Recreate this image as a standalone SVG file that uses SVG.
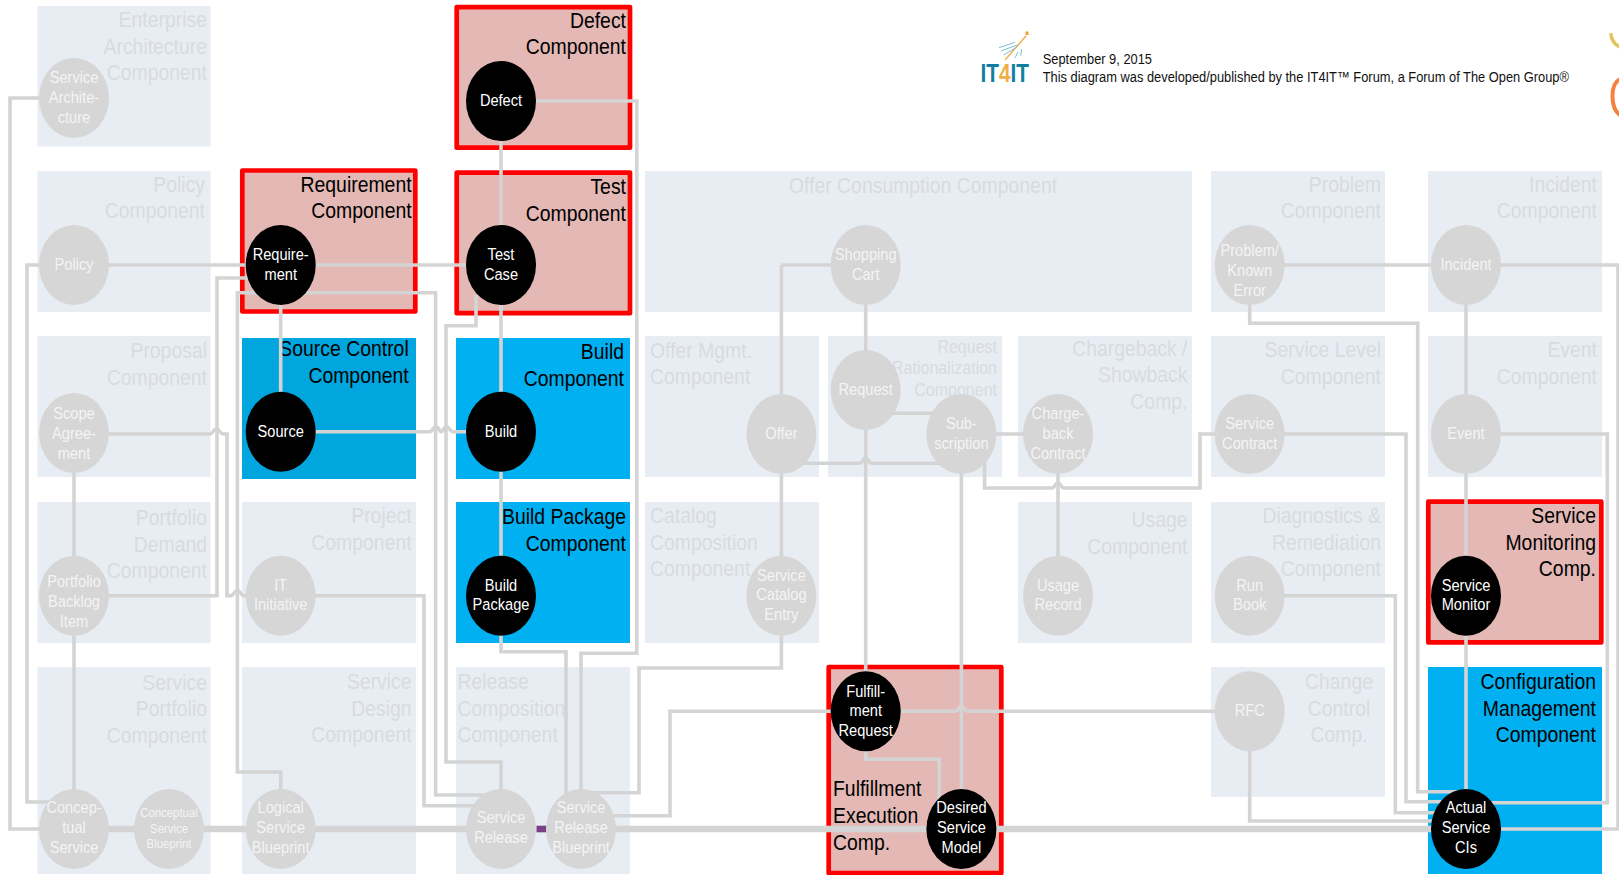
<svg xmlns="http://www.w3.org/2000/svg" width="1619" height="875" viewBox="0 0 1619 875">
<style>
text{font-family:"Liberation Sans",Arial,sans-serif}
.zone{fill:#e8edf4}
.blue{fill:#00b0f0}
.blue2{fill:#00a6dd}
.red{fill:#e4b8b5;stroke:#f00;stroke-width:4.7;stroke-linejoin:round}
.z{font-size:22px;fill:#d8dbdf}
.zb{font-size:22px;fill:#000}
.e{text-anchor:end}
.s{text-anchor:start}
.m{text-anchor:middle}
.n{font-size:16.7px;text-anchor:middle}
.g ellipse{fill:#d6d6d6}
.k ellipse{fill:#000}
.g text{fill:#f4f4f4}
.k text{fill:#fff}
.c{fill:none;stroke:#d4d4d4;stroke-width:3.6;stroke-linejoin:miter}
.t{fill:none;stroke:#d4d4d4;stroke-width:6.4}
</style>

<g id="zones">
<g id="zone-enterprise-architecture"><rect class="zone" x="37.5" y="6" width="173" height="140.5"/><text class="z e" transform="translate(207 27.2) scale(.882 1)"><tspan x="0">Enterprise</tspan><tspan x="0" dy="26.6">Architecture</tspan><tspan x="0" dy="26.6">Component</tspan></text></g>
<g id="zone-policy"><rect class="zone" x="37.5" y="171" width="173" height="141"/><text class="z e" transform="translate(205 191.7) scale(.882 1)"><tspan x="0">Policy</tspan><tspan x="0" dy="26.6">Component</tspan></text></g>
<g id="zone-proposal"><rect class="zone" x="37.5" y="336" width="173" height="141"/><text class="z e" transform="translate(207 358.3) scale(.882 1)"><tspan x="0">Proposal</tspan><tspan x="0" dy="26.6">Component</tspan></text></g>
<g id="zone-portfolio-demand"><rect class="zone" x="37.5" y="502" width="173" height="141"/><text class="z e" transform="translate(207 525.2) scale(.882 1)"><tspan x="0">Portfolio</tspan><tspan x="0" dy="26.6">Demand</tspan><tspan x="0" dy="26.6">Component</tspan></text></g>
<g id="zone-service-portfolio"><rect class="zone" x="37.5" y="667" width="173" height="207"/><text class="z e" transform="translate(207 689.8) scale(.882 1)"><tspan x="0">Service</tspan><tspan x="0" dy="26.6">Portfolio</tspan><tspan x="0" dy="26.6">Component</tspan></text></g>
<g id="zone-requirement"><rect class="red" x="242.3" y="170.5" width="173" height="141"/><text class="zb e" transform="translate(411.6 191.7) scale(.882 1)"><tspan x="0">Requirement</tspan><tspan x="0" dy="26.6">Component</tspan></text></g>
<g id="zone-source-control"><rect class="blue2" x="242" y="338" width="174" height="141"/><text class="zb e" transform="translate(408.7 356.3) scale(.882 1)"><tspan x="0">Source Control</tspan><tspan x="0" dy="26.6">Component</tspan></text></g>
<g id="zone-project"><rect class="zone" x="242" y="502" width="174" height="141"/><text class="z e" transform="translate(411.6 523.3) scale(.882 1)"><tspan x="0">Project</tspan><tspan x="0" dy="26.6">Component</tspan></text></g>
<g id="zone-service-design"><rect class="zone" x="242" y="667" width="174" height="207"/><text class="z e" transform="translate(411.6 689.3) scale(.882 1)"><tspan x="0">Service</tspan><tspan x="0" dy="26.6">Design</tspan><tspan x="0" dy="26.6">Component</tspan></text></g>
<g id="zone-defect"><rect class="red" x="456.7" y="7.2" width="173.3" height="140.5"/><text class="zb e" transform="translate(626 27.5) scale(.882 1)"><tspan x="0">Defect</tspan><tspan x="0" dy="26.6">Component</tspan></text></g>
<g id="zone-test"><rect class="red" x="456.7" y="172.7" width="173.3" height="140.5"/><text class="zb e" transform="translate(626 194) scale(.882 1)"><tspan x="0">Test</tspan><tspan x="0" dy="26.6">Component</tspan></text></g>
<g id="zone-build"><rect class="blue" x="456" y="338" width="174" height="141"/><text class="zb e" transform="translate(624 359.4) scale(.882 1)"><tspan x="0">Build</tspan><tspan x="0" dy="26.6">Component</tspan></text></g>
<g id="zone-build-package"><rect class="blue" x="456" y="502" width="174" height="141"/><text class="zb e" transform="translate(626 524.2) scale(.882 1)"><tspan x="0">Build Package</tspan><tspan x="0" dy="26.6">Component</tspan></text></g>
<g id="zone-release-composition"><rect class="zone" x="456" y="667" width="174" height="207"/><text class="z s" transform="translate(457.5 689.3) scale(.882 1)"><tspan x="0">Release</tspan><tspan x="0" dy="26.6">Composition</tspan><tspan x="0" dy="26.6">Component</tspan></text></g>
<g id="zone-offer-consumption"><rect class="zone" x="645" y="171" width="547" height="141"/><text class="z m" transform="translate(923 192.6) scale(.882 1)">Offer Consumption Component</text></g>
<g id="zone-offer-mgmt"><rect class="zone" x="645" y="336" width="174" height="141"/><text class="z s" transform="translate(650 357.5) scale(.882 1)"><tspan x="0">Offer Mgmt.</tspan><tspan x="0" dy="26.6">Component</tspan></text></g>
<g id="zone-request-rationalization"><rect class="zone" x="828" y="336" width="174" height="141"/><text class="e" style="font-size:18px;fill:#d8dbdf" transform="translate(997 352.5) scale(.89 1)"><tspan x="0">Request</tspan><tspan x="0" dy="22">Rationalization</tspan><tspan x="0" dy="22">Component</tspan></text></g>
<g id="zone-chargeback"><rect class="zone" x="1018" y="336" width="174" height="141"/><text class="z e" transform="translate(1187.5 355.5) scale(.882 1)"><tspan x="0">Chargeback /</tspan><tspan x="0" dy="26.6">Showback</tspan><tspan x="0" dy="26.6">Comp.</tspan></text></g>
<g id="zone-catalog-composition"><rect class="zone" x="645" y="502" width="174" height="141"/><text class="z s" transform="translate(650 523.3) scale(.882 1)"><tspan x="0">Catalog</tspan><tspan x="0" dy="26.6">Composition</tspan><tspan x="0" dy="26.6">Component</tspan></text></g>
<g id="zone-usage"><rect class="zone" x="1018" y="502" width="174" height="141"/><text class="z e" transform="translate(1187.5 527.4) scale(.882 1)"><tspan x="0">Usage</tspan><tspan x="0" dy="26.6">Component</tspan></text></g>
<g id="zone-fulfillment-execution"><rect class="red" x="828.7" y="667" width="172.6" height="206"/><text class="zb s" transform="translate(833 796.4) scale(.882 1)"><tspan x="0">Fulfillment</tspan><tspan x="0" dy="26.6">Execution</tspan><tspan x="0" dy="26.6">Comp.</tspan></text></g>
<g id="zone-problem"><rect class="zone" x="1211" y="171" width="174" height="141"/><text class="z e" transform="translate(1381 191.6) scale(.882 1)"><tspan x="0">Problem</tspan><tspan x="0" dy="26.6">Component</tspan></text></g>
<g id="zone-incident"><rect class="zone" x="1428" y="171" width="174" height="141"/><text class="z e" transform="translate(1597 191.6) scale(.882 1)"><tspan x="0">Incident</tspan><tspan x="0" dy="26.6">Component</tspan></text></g>
<g id="zone-service-level"><rect class="zone" x="1211" y="336" width="174" height="141"/><text class="z e" transform="translate(1381 357.4) scale(.882 1)"><tspan x="0">Service Level</tspan><tspan x="0" dy="26.6">Component</tspan></text></g>
<g id="zone-event"><rect class="zone" x="1428" y="336" width="174" height="141"/><text class="z e" transform="translate(1597 357.4) scale(.882 1)"><tspan x="0">Event</tspan><tspan x="0" dy="26.6">Component</tspan></text></g>
<g id="zone-diagnostics"><rect class="zone" x="1211" y="502" width="174" height="141"/><text class="z e" transform="translate(1381 523.3) scale(.882 1)"><tspan x="0">Diagnostics &amp;</tspan><tspan x="0" dy="26.6">Remediation</tspan><tspan x="0" dy="26.6">Component</tspan></text></g>
<g id="zone-service-monitoring"><rect class="red" x="1428.3" y="501.7" width="173" height="140.7"/><text class="zb e" transform="translate(1596 523.3) scale(.882 1)"><tspan x="0">Service</tspan><tspan x="0" dy="26.6">Monitoring</tspan><tspan x="0" dy="26.6">Comp.</tspan></text></g>
<g id="zone-change-control"><rect class="zone" x="1211" y="667" width="174" height="130"/><text class="z m" transform="translate(1339 689.3) scale(.882 1)"><tspan x="0">Change</tspan><tspan x="0" dy="26.6">Control</tspan><tspan x="0" dy="26.6">Comp.</tspan></text></g>
<g id="zone-configuration-management"><rect class="blue" x="1428" y="667" width="174" height="207"/><text class="zb e" transform="translate(1596 689.3) scale(.882 1)"><tspan x="0">Configuration</tspan><tspan x="0" dy="26.6">Management</tspan><tspan x="0" dy="26.6">Component</tspan></text></g>
</g>

<g id="header">
<text style="font-size:14.7px;fill:#111" transform="translate(1042.7 63.7) scale(.875 1)">September 9, 2015</text>
<text style="font-size:14.7px;fill:#111" transform="translate(1042.7 81.7) scale(.875 1)">This diagram was developed/published by the IT4IT™ Forum, a Forum of The Open Group®</text>
<g id="logo">
<text style="font-size:25px;font-weight:bold;fill:#0f7f9f" transform="translate(980.5 82) scale(.83 1)">IT<tspan fill="#f0ae4a">4</tspan>IT</text>
<path d="M1026 36L1005 60" fill="none" stroke="#f0ae4a" stroke-width="1.4"/>
<rect x="1025.5" y="31.5" width="3" height="3.5" fill="#f0a030"/>
<path d="M999 47.7L1015 42.3M1001 51L1017 45M1003.7 55L1017 47M1015 58L1018 52M1020.7 55.7L1021.7 49" fill="none" stroke="#7cc3da" stroke-width="1"/>
</g>
<path d="M1610.7 33.3C1611.5 40 1615 45 1620 47" fill="none" stroke="#e3c35a" stroke-width="3.5"/>
<path d="M1620 79.3C1610 84 1610 108 1620 115" fill="none" stroke="#f5813f" stroke-width="4"/>
</g>

<g id="connectors">
<path class="t" d="M74 829H501M581 829H1466"/>
<rect x="536.5" y="825.7" width="10" height="6.6" fill="#7b3f85"/>
<path class="c" d="M74 98H10V829H74"/>
<path class="c" d="M74 265H27V802H52"/>
<path class="c" d="M74 265H501"/>
<path class="c" d="M250 278H217V595.7H74"/>
<path class="c" d="M109 434H210C213 434 213 429 216.5 429C220 429 220 434 223 434H227V595.7H231C234 595.7 234 590.7 237.4 590.7C240.8 590.7 240.8 595.7 244 595.7H280"/>
<path class="c" d="M258 292.7H237.4V772H280.7V800"/>
<path class="c" d="M300 292.7H435.6V795H490"/>
<path class="c" d="M476 295V325.7H446V762H501V800"/>
<path class="c" d="M280.7 595.7H424V805.7H480"/>
<path class="c" d="M300 431.7H429.5C433 431.7 433 426.7 436 426.7C439 426.7 439 431.7 441.3 431.7C443.5 431.7 443.5 426.7 446.5 426.7C449.5 426.7 449.5 431.7 453 431.7H480"/>
<path class="c" d="M280.7 265V432"/>
<path class="c" d="M501 100V596"/>
<path class="c" d="M501 596V651.7H566V800"/>
<path class="c" d="M501 101H636.8V653.3H581V800"/>
<path class="c" d="M781.4 265V596V668H639V792.7H590"/>
<path class="c" d="M865.7 265H781.4"/>
<path class="c" d="M865.7 711.3H670V815.7H590"/>
<path class="c" d="M865.7 711.3H955.4C958.4 711.3 958.4 706.3 961.4 706.3C964.4 706.3 964.4 711.3 967.4 711.3H1249.7"/>
<path class="c" d="M865.7 711.3V759.3H939.3V810"/>
<path class="c" d="M865.7 265V711"/>
<path class="c" d="M961.4 434V829"/>
<path class="c" d="M781.4 463.3H859.7C862.7 463.3 862.7 458.3 865.7 458.3C868.7 458.3 868.7 463.3 871.7 463.3H961"/>
<path class="c" d="M890 413.3H935"/>
<path class="c" d="M961.4 434H1058V596"/>
<path class="c" d="M984.6 450V488H1052C1055 488 1055 483 1058 483C1061 483 1061 488 1064 488H1200V434H1249.7"/>
<path class="c" d="M1249.7 434H1406V801.7H1466"/>
<path class="c" d="M1249.7 265V323.3H1417.7V791.7H1466"/>
<path class="c" d="M1249.7 265H1618V829H1466"/>
<path class="c" d="M1466 434H1607.3V802.7H1466"/>
<path class="c" d="M1249.7 595.7H1395.3V812.7H1466"/>
<path class="c" d="M1249.7 711.3V821H1466"/>
<path class="c" d="M1466 265V829"/>
<path class="c" d="M74 434V829"/>
</g>

<g id="nodes">
<g id="node-service-architecture" class="g"><ellipse cx="74" cy="98" rx="35" ry="40"/><text class="n" transform="translate(74 83) scale(.875 1)"><tspan x="0">Service</tspan><tspan x="0" dy="20">Archite-</tspan><tspan x="0" dy="20">cture</tspan></text></g>
<g id="node-defect" class="k"><ellipse cx="501" cy="101" rx="35" ry="40"/><text class="n" transform="translate(501 106) scale(.875 1)">Defect</text></g>
<g id="node-policy" class="g"><ellipse cx="74" cy="265" rx="35" ry="40"/><text class="n" transform="translate(74 270) scale(.875 1)">Policy</text></g>
<g id="node-requirement" class="k"><ellipse cx="280.7" cy="265" rx="35" ry="40"/><text class="n" transform="translate(280.7 260) scale(.875 1)"><tspan x="0">Require-</tspan><tspan x="0" dy="20">ment</tspan></text></g>
<g id="node-test-case" class="k"><ellipse cx="501" cy="265" rx="35" ry="40"/><text class="n" transform="translate(501 260) scale(.875 1)"><tspan x="0">Test</tspan><tspan x="0" dy="20">Case</tspan></text></g>
<g id="node-shopping-cart" class="g"><ellipse cx="865.7" cy="265" rx="35" ry="40"/><text class="n" transform="translate(865.7 260) scale(.875 1)"><tspan x="0">Shopping</tspan><tspan x="0" dy="20">Cart</tspan></text></g>
<g id="node-problem" class="g"><ellipse cx="1249.7" cy="265" rx="35" ry="40"/><text class="n" transform="translate(1249.7 256) scale(.875 1)"><tspan x="0">Problem/</tspan><tspan x="0" dy="20">Known</tspan><tspan x="0" dy="20">Error</tspan></text></g>
<g id="node-incident" class="g"><ellipse cx="1466" cy="265" rx="35" ry="40"/><text class="n" transform="translate(1466 270) scale(.875 1)">Incident</text></g>
<g id="node-scope-agreement" class="g"><ellipse cx="74" cy="433" rx="35" ry="40"/><text class="n" transform="translate(74 419) scale(.875 1)"><tspan x="0">Scope</tspan><tspan x="0" dy="20">Agree-</tspan><tspan x="0" dy="20">ment</tspan></text></g>
<g id="node-source" class="k"><ellipse cx="280.7" cy="431.7" rx="35" ry="40"/><text class="n" transform="translate(280.7 436.5) scale(.875 1)">Source</text></g>
<g id="node-build" class="k"><ellipse cx="501" cy="431.7" rx="35" ry="40"/><text class="n" transform="translate(501 436.5) scale(.875 1)">Build</text></g>
<g id="node-request" class="g"><ellipse cx="865.7" cy="390" rx="35" ry="40"/><text class="n" transform="translate(865.7 395) scale(.875 1)">Request</text></g>
<g id="node-offer" class="g"><ellipse cx="781.4" cy="434" rx="35" ry="40"/><text class="n" transform="translate(781.4 438.7) scale(.875 1)">Offer</text></g>
<g id="node-subscription" class="g"><ellipse cx="961.4" cy="434" rx="35" ry="40"/><text class="n" transform="translate(961.4 428.7) scale(.875 1)"><tspan x="0">Sub-</tspan><tspan x="0" dy="20">scription</tspan></text></g>
<g id="node-chargeback-contract" class="g"><ellipse cx="1058" cy="434" rx="35" ry="40"/><text class="n" transform="translate(1058 418.7) scale(.875 1)"><tspan x="0">Charge-</tspan><tspan x="0" dy="20">back</tspan><tspan x="0" dy="20">Contract</tspan></text></g>
<g id="node-service-contract" class="g"><ellipse cx="1249.7" cy="434" rx="35" ry="40"/><text class="n" transform="translate(1249.7 428.7) scale(.875 1)"><tspan x="0">Service</tspan><tspan x="0" dy="20">Contract</tspan></text></g>
<g id="node-event" class="g"><ellipse cx="1466" cy="434" rx="35" ry="40"/><text class="n" transform="translate(1466 438.7) scale(.875 1)">Event</text></g>
<g id="node-portfolio-backlog" class="g"><ellipse cx="74" cy="595.7" rx="35" ry="40"/><text class="n" transform="translate(74 586.7) scale(.875 1)"><tspan x="0">Portfolio</tspan><tspan x="0" dy="20">Backlog</tspan><tspan x="0" dy="20">Item</tspan></text></g>
<g id="node-it-initiative" class="g"><ellipse cx="280.7" cy="595.7" rx="35" ry="40"/><text class="n" transform="translate(280.7 590.5) scale(.875 1)"><tspan x="0">IT</tspan><tspan x="0" dy="20">Initiative</tspan></text></g>
<g id="node-build-package" class="k"><ellipse cx="501" cy="595.7" rx="35" ry="40"/><text class="n" transform="translate(501 590.5) scale(.875 1)"><tspan x="0">Build</tspan><tspan x="0" dy="20">Package</tspan></text></g>
<g id="node-service-catalog-entry" class="g"><ellipse cx="781.4" cy="595.7" rx="35" ry="40"/><text class="n" transform="translate(781.4 580.5) scale(.875 1)"><tspan x="0">Service</tspan><tspan x="0" dy="20">Catalog</tspan><tspan x="0" dy="20">Entry</tspan></text></g>
<g id="node-usage-record" class="g"><ellipse cx="1058" cy="595.7" rx="35" ry="40"/><text class="n" transform="translate(1058 590.5) scale(.875 1)"><tspan x="0">Usage</tspan><tspan x="0" dy="20">Record</tspan></text></g>
<g id="node-run-book" class="g"><ellipse cx="1249.7" cy="595.7" rx="35" ry="40"/><text class="n" transform="translate(1249.7 590.5) scale(.875 1)"><tspan x="0">Run</tspan><tspan x="0" dy="20">Book</tspan></text></g>
<g id="node-service-monitor" class="k"><ellipse cx="1466" cy="595.7" rx="35" ry="40"/><text class="n" transform="translate(1466 590.5) scale(.875 1)"><tspan x="0">Service</tspan><tspan x="0" dy="20">Monitor</tspan></text></g>
<g id="node-fulfillment-request" class="k"><ellipse cx="865.7" cy="711.3" rx="35" ry="40"/><text class="n" transform="translate(865.7 696.5) scale(.875 1)"><tspan x="0">Fulfill-</tspan><tspan x="0" dy="20">ment</tspan><tspan x="0" dy="20">Request</tspan></text></g>
<g id="node-rfc" class="g"><ellipse cx="1249.7" cy="711.3" rx="35" ry="40"/><text class="n" transform="translate(1249.7 716) scale(.875 1)">RFC</text></g>
<g id="node-conceptual-service" class="g"><ellipse cx="74" cy="829" rx="35" ry="40"/><text class="n" transform="translate(74 813.3) scale(.875 1)"><tspan x="0">Concep-</tspan><tspan x="0" dy="20">tual</tspan><tspan x="0" dy="20">Service</tspan></text></g>
<g id="node-conceptual-service-blueprint" class="g"><ellipse cx="169" cy="829" rx="35" ry="40"/><text class="n" style="font-size:13px" transform="translate(169 817.3) scale(.875 1)"><tspan x="0">Conceptual</tspan><tspan x="0" dy="15.5">Service</tspan><tspan x="0" dy="15.5">Blueprint</tspan></text></g>
<g id="node-logical-service-blueprint" class="g"><ellipse cx="280.7" cy="829" rx="35" ry="40"/><text class="n" transform="translate(280.7 813.3) scale(.875 1)"><tspan x="0">Logical</tspan><tspan x="0" dy="20">Service</tspan><tspan x="0" dy="20">Blueprint</tspan></text></g>
<g id="node-service-release" class="g"><ellipse cx="501" cy="829" rx="35" ry="40"/><text class="n" transform="translate(501 823.3) scale(.875 1)"><tspan x="0">Service</tspan><tspan x="0" dy="20">Release</tspan></text></g>
<g id="node-service-release-blueprint" class="g"><ellipse cx="581" cy="829" rx="35" ry="40"/><text class="n" transform="translate(581 813.3) scale(.875 1)"><tspan x="0">Service</tspan><tspan x="0" dy="20">Release</tspan><tspan x="0" dy="20">Blueprint</tspan></text></g>
<g id="node-desired-service-model" class="k"><ellipse cx="961.4" cy="829" rx="35" ry="40"/><text class="n" transform="translate(961.4 813.3) scale(.875 1)"><tspan x="0">Desired</tspan><tspan x="0" dy="20">Service</tspan><tspan x="0" dy="20">Model</tspan></text></g>
<g id="node-actual-service-cis" class="k"><ellipse cx="1466" cy="829" rx="35" ry="40"/><text class="n" transform="translate(1466 813.3) scale(.875 1)"><tspan x="0">Actual</tspan><tspan x="0" dy="20">Service</tspan><tspan x="0" dy="20">CIs</tspan></text></g>
</g>
</svg>
